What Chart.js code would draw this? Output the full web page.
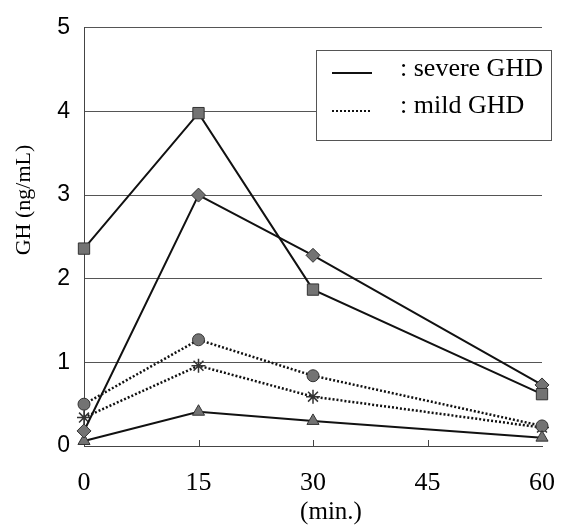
<!DOCTYPE html>
<html lang="en">
<head>
    <meta charset="UTF-8">
    <title>GH response</title>
    <script src="https://cdn.jsdelivr.net/npm/chart.js@4.4.1/dist/chart.umd.min.js"></script>
    <style>
        body { margin: 0; background: #fff; }
        #wrap { width: 577px; height: 525px; }
    </style>
</head>
<body>
<div id="wrap"><canvas id="chart" width="577" height="525"></canvas></div>
<script>
// time points (min.)
const minutes = [0, 15, 30, 60];
const xTicks = [0, 15, 30, 45, 60];
const yTicks = [0, 1, 2, 3, 4, 5];

// severe GHD (solid lines)
const severeSquare = [2.36, 3.98, 1.87, 0.62];
const severeDiamond = [0.18, 3.0, 2.28, 0.73];
const severeTriangle = [0.06, 0.41, 0.3, 0.1];

// mild GHD (dotted lines)
const mildCircle = [0.5, 1.27, 0.84, 0.24];
const mildStar = [0.34, 0.96, 0.59, 0.22];

const legendLabels = [': severe GHD', ': mild GHD'];
const yTitle = 'GH (ng/mL)';
const xTitle = '(min.)';

const serif = '"Liberation Serif", "Times New Roman", serif';
const sans = '"Liberation Sans", Arial, sans-serif';

function pts(ys) {
    return minutes.map((m, i) => ({ x: m, y: ys[i] }));
}

function series(ys, style, radius, dotted) {
    return {
        data: pts(ys),
        borderColor: '#111',
        borderWidth: dotted ? 2.5 : 2,
        borderDash: dotted ? [2, 2] : [],
        pointStyle: style,
        pointRadius: radius,
        pointBackgroundColor: '#737373',
        pointBorderColor: '#333',
        pointBorderWidth: style === 'star' ? 1.5 : 1,
        tension: 0,
        fill: false,
        clip: false
    };
}

// legend box, axis titles and small inner tick marks
const decorations = {
    id: 'decorations',
    afterDraw(chart) {
        const ctx = chart.ctx;
        const x = chart.scales.x;
        ctx.save();

        // inner tick marks on the time axis
        ctx.strokeStyle = '#444';
        ctx.lineWidth = 1;
        xTicks.slice(1, -1).forEach(v => {
            const px = Math.round(x.getPixelForValue(v)) + 0.5;
            ctx.beginPath();
            ctx.moveTo(px, x.top);
            ctx.lineTo(px, x.top - 6);
            ctx.stroke();
        });

        // legend
        ctx.fillStyle = '#fff';
        ctx.fillRect(316, 50, 235, 90);
        ctx.strokeStyle = '#555';
        ctx.lineWidth = 1;
        ctx.strokeRect(316.5, 50.5, 235, 90);

        ctx.strokeStyle = '#111';
        ctx.lineWidth = 2;
        ctx.beginPath();
        ctx.moveTo(332, 73);
        ctx.lineTo(372, 73);
        ctx.stroke();
        ctx.setLineDash([2, 2]);
        ctx.beginPath();
        ctx.moveTo(332, 111);
        ctx.lineTo(372, 111);
        ctx.stroke();
        ctx.setLineDash([]);

        ctx.fillStyle = '#000';
        ctx.font = '26px ' + serif;
        ctx.textAlign = 'left';
        ctx.textBaseline = 'middle';
        ctx.fillText(legendLabels[0], 400, 69);
        ctx.fillText(legendLabels[1], 400, 106);

        // y title
        ctx.save();
        ctx.translate(24, 200);
        ctx.rotate(-Math.PI / 2);
        ctx.font = '22px ' + serif;
        ctx.textAlign = 'center';
        ctx.textBaseline = 'middle';
        ctx.fillText(yTitle, 0, 0);
        ctx.restore();

        // x title
        ctx.font = '25px ' + serif;
        ctx.textAlign = 'center';
        ctx.textBaseline = 'middle';
        ctx.fillText(xTitle, 331, 512);

        ctx.restore();
    }
};

const ctx = document.getElementById('chart').getContext('2d');
new Chart(ctx, {
    type: 'line',
    data: {
        datasets: [
            series(severeSquare, 'rect', 8, false),
            series(severeDiamond, 'rectRot', 7, false),
            series(severeTriangle, 'triangle', 7, false),
            series(mildCircle, 'circle', 6, true),
            series(mildStar, 'star', 7, true)
        ]
    },
    options: {
        responsive: false,
        animation: false,
        layout: { padding: { top: 16, right: 20, bottom: 0, left: 0 } },
        plugins: {
            legend: { display: false },
            tooltip: { enabled: false }
        },
        scales: {
            x: {
                type: 'linear',
                min: 0,
                max: 60,
                afterBuildTicks: s => { s.ticks = xTicks.map(v => ({ value: v })); },
                afterFit: s => { s.height = 79; },
                grid: { display: false, drawTicks: false },
                border: { display: true, color: '#444', width: 1 },
                ticks: {
                    color: '#000',
                    font: { family: serif, size: 26 },
                    padding: 22,
                    maxRotation: 0
                }
            },
            y: {
                min: 0,
                max: 5,
                afterBuildTicks: s => { s.ticks = yTicks.map(v => ({ value: v })); },
                afterFit: s => { s.width = 84; },
                grid: { color: '#555', lineWidth: 1, drawTicks: false },
                border: { display: true, color: '#444', width: 1 },
                ticks: {
                    color: '#000',
                    font: { family: sans, size: 23 },
                    padding: 14
                }
            }
        }
    },
    plugins: [decorations]
});
</script>
</body>
</html>
